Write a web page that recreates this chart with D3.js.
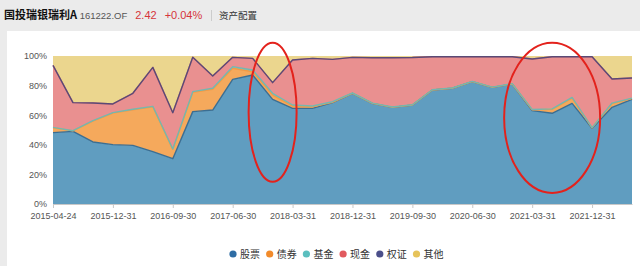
<!DOCTYPE html>
<html>
<head>
<meta charset="utf-8">
<title>资产配置</title>
<script src="https://d3js.org/d3.v7.min.js"></script>
<style>
  html, body { margin: 0; padding: 0; background: #ebebeb; }
  svg { display: block; }
</style>
</head>
<body>
<script>
// report dates (one point per quarter)
const dates = ["2015-04-24","2015-06-30","2015-09-30","2015-12-31","2016-03-31","2016-06-30",
  "2016-09-30","2016-12-31","2017-03-31","2017-06-30","2017-09-30","2017-12-31",
  "2018-03-31","2018-06-30","2018-09-30","2018-12-31","2019-03-31","2019-06-30",
  "2019-09-30","2019-12-31","2020-03-31","2020-06-30","2020-09-30","2020-12-31",
  "2021-03-31","2021-06-30","2021-09-30","2021-12-31","2022-03-31","2022-06-30"];

// asset share in %
const stock   = [48.2,49.1,41.9,40.1,39.6,35.4,30.6,62.4,63.5,84.2,87.2,70.7,64.6,64.6,68.5,74.8,68.0,65.3,66.9,77.0,78.2,82.7,78.8,81.1,63.1,61.3,68.0,51.1,65.3,70.7];
const bond    = [3.3,0.3,14.1,21.3,24.1,30.3,6.3,13.1,14.0,7.5,2.2,2.9,1.6,1.0,0.2,0,0,0,0,0,0,0,0,0,0.5,2.7,3.6,0.3,2.6,0.5];
const fund    = [0.3,0.1,0.3,0.3,0.3,0.3,0.3,0.4,0.7,1.1,1.1,1.2,0.7,0.6,0.4,0.2,0.2,0.2,0.2,0.2,0.2,0.2,0.2,0.2,0.3,0.3,0.4,0.2,0.3,0.3];
const cash    = [41.9,19.0,11.9,5.9,10.8,26.3,24.5,23.2,8.3,6.3,7.9,7.2,30.4,32.2,28.6,24.1,30.6,33.3,31.9,22.3,21.1,16.6,20.5,18.2,34.1,35.2,27.5,47.9,16.3,13.6];
const warrant = [0,0,0,0,0,0,0,0,0,0,0,0,0,0,0,0,0,0,0,0,0,0,0,0,0,0,0,0,0,0];
const other   = [6.3,31.5,31.8,32.4,25.2,7.7,38.3,0.9,13.5,0.9,1.6,18.0,2.7,1.6,2.3,0.9,1.2,1.2,1.0,0.5,0.5,0.5,0.5,0.5,2.0,0.5,0.5,0.5,15.5,14.9];

const seriesNames = ["股票","债券","基金","现金","权证","其他"];
const seriesData = [stock, bond, fund, cash, warrant, other];
const yTicks = [0, 20, 40, 60, 80, 100];
const xTickLabels = ["2015-04-24","2015-12-31","2016-09-30","2017-06-30","2018-03-31",
  "2018-12-31","2019-09-30","2020-06-30","2021-03-31","2021-12-31"];

// red hand-drawn marks on the picture: date at centre, value span
const marks = [
  { date: "2017-12-31", lo: 15, hi: 109, half: 24 },
  { date: "2021-06-30", lo: 7.5, hi: 109, half: 48 }
];

const areaColor  = ["#609dc0","#f5a95c","#7cc6c0","#e99090","#6a6896","#ebd68e"];
const lineColor  = ["#3b6e92","#f39a45","#74b7b0","#e27d7f","#5a4a76","#e6cc78"];
const legendColor = ["#2e6da4","#f28b2a","#5bbfbf","#e15a5f","#4b4f8a","#e6c35a"];

const W = 640, H = 266;
const margin = { top: 56, right: 8, bottom: 62, left: 53 };

const svg = d3.select("body").append("svg")
  .attr("width", W)
  .attr("height", H);

// white panel below the header
svg.append("rect").attr("x", 7).attr("y", 31).attr("width", W - 7).attr("height", H - 31).attr("fill", "#fff");

// header line
const head = svg.append("text").attr("x", 4).attr("y", 19).attr("font-family", "'Liberation Sans', Arial, sans-serif");
head.append("tspan").text("国投瑞银瑞利A").attr("font-size", 11).attr("font-weight", "bold").attr("fill", "#111")
  .attr("font-family", "'Noto Sans CJK SC', sans-serif");
head.append("tspan").text(" 161222.OF").attr("font-size", 9.5).attr("fill", "#555");
head.append("tspan").text("2.42").attr("dx", 8).attr("font-size", 11).attr("fill", "#d6353b");
head.append("tspan").text("+0.04%").attr("dx", 8).attr("font-size", 11).attr("fill", "#d6353b");
svg.append("line").attr("x1", 211.5).attr("x2", 211.5).attr("y1", 10).attr("y2", 21).attr("stroke", "#ccc");
svg.append("text").attr("x", 219).attr("y", 19).text("资产配置")
  .attr("font-size", 9.5).attr("fill", "#333").attr("font-family", "'Noto Sans CJK SC', sans-serif");

// scales
const x = d3.scalePoint().domain(dates).range([margin.left, W - margin.right]);
const y = d3.scaleLinear().domain([0, 100]).range([H - margin.bottom, margin.top]);

// table for the stack
const rows = dates.map((d, i) => {
  const r = { date: d };
  seriesNames.forEach((n, k) => { r[n] = seriesData[k][i]; });
  return r;
});
const stacked = d3.stack().keys(seriesNames)(rows);

const area = d3.area()
  .x(d => x(d.data.date))
  .y0(d => y(d[0]))
  .y1(d => y(d[1]));
const topLine = d3.line()
  .x(d => x(d.data.date))
  .y(d => y(d[1]));

const plot = svg.append("g");
stacked.forEach((s, k) => {
  plot.append("path").datum(s).attr("d", area).attr("fill", areaColor[k]);
});
stacked.forEach((s, k) => {
  if (k === stacked.length - 1) return;
  plot.append("path").datum(s).attr("d", topLine)
    .attr("fill", "none").attr("stroke", lineColor[k]).attr("stroke-width", 1.4)
    .attr("stroke-linejoin", "round");
});

// x axis
const xAxis = d3.axisBottom(x).tickValues(xTickLabels).tickSize(4).tickSizeOuter(0);
const gx = svg.append("g").attr("transform", `translate(0,${y(0)})`).call(xAxis);
gx.select(".domain").attr("stroke", "#c8c8c8");
gx.selectAll(".tick line").attr("stroke", "#c8c8c8");
gx.selectAll(".tick text").attr("fill", "#555").attr("font-size", 9).attr("dy", "0.9em")
  .attr("font-family", "'Liberation Sans', Arial, sans-serif");

// y axis
const yAxis = d3.axisLeft(y).tickValues(yTicks).tickFormat(d => d + "%").tickSize(0).tickPadding(6);
const gy = svg.append("g").attr("transform", `translate(${margin.left},0)`).call(yAxis);
gy.select(".domain").remove();
gy.selectAll(".tick text").attr("fill", "#555").attr("font-size", 9)
  .attr("font-family", "'Liberation Sans', Arial, sans-serif");

// red ellipses
marks.forEach(m => {
  svg.append("ellipse")
    .attr("cx", x(m.date))
    .attr("cy", (y(m.lo) + y(m.hi)) / 2)
    .attr("rx", m.half)
    .attr("ry", (y(m.lo) - y(m.hi)) / 2)
    .attr("fill", "none").attr("stroke", "#e3221c").attr("stroke-width", 2);
});

// legend
const legend = svg.append("g").attr("transform", "translate(233,254)");
let lx = 0;
seriesNames.forEach((n, k) => {
  const g = legend.append("g").attr("transform", `translate(${lx},0)`);
  g.append("circle").attr("r", 3.6).attr("fill", legendColor[k]);
  const t = g.append("text").attr("x", 7).attr("y", 3.5).text(n)
    .attr("font-size", 10).attr("fill", "#333").attr("font-family", "'Noto Sans CJK SC', sans-serif");
  lx += 7 + t.node().getComputedTextLength() + 9.7;
});
</script>
</body>
</html>
